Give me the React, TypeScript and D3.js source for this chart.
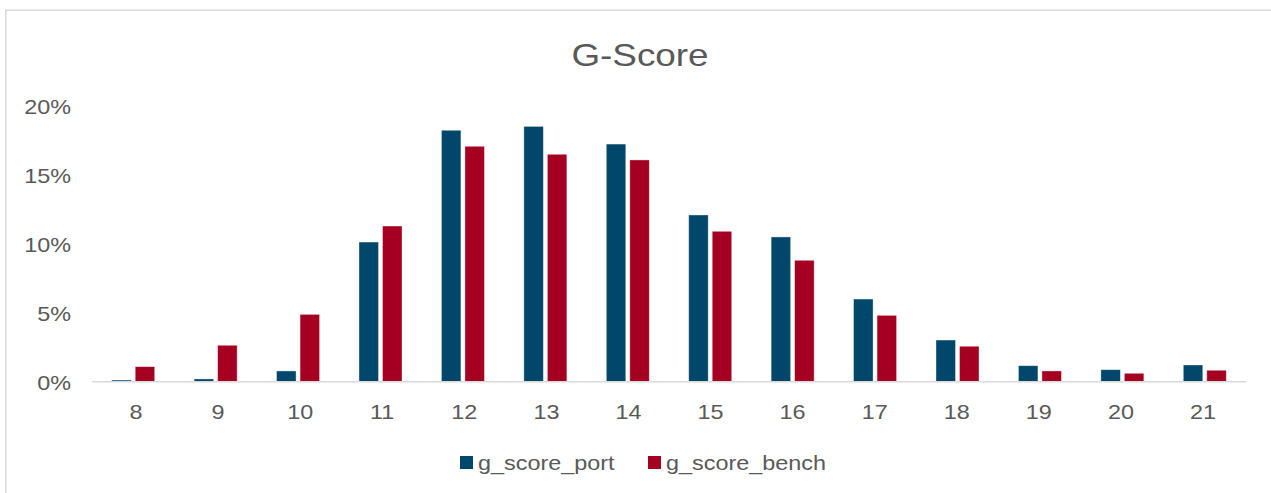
import React from "react";
import * as d3 from "d3";

const categories = ["8", "9", "10", "11", "12", "13", "14", "15", "16", "17", "18", "19", "20", "21"];
const gScorePort = [0.12, 0.2, 0.78, 10.12, 18.22, 18.5, 17.22, 12.08, 10.49, 5.99, 3.02, 1.16, 0.87, 1.21];
const gScoreBench = [1.09, 2.64, 4.88, 11.28, 17.06, 16.48, 16.07, 10.9, 8.8, 4.81, 2.57, 0.78, 0.61, 0.83];
const yTicks = [0, 5, 10, 15, 20];
const seriesNames = ["g_score_port", "g_score_bench"];
const colors = ["#01476B", "#A50021"];

const font = "'Liberation Sans', Arial, sans-serif";
const textColor = "#595959";
const SX = 1.17;

function T({ x, y, size, anchor = "start", children }: { x: number; y: number; size: number; anchor?: string; children: React.ReactNode }) {
  return (
    <text
      transform={`translate(${x},${y}) scale(${SX},1)`}
      textAnchor={anchor}
      fontFamily={font}
      fontSize={size}
      fill={textColor}
    >
      {children}
    </text>
  );
}

export default function App() {
  const W = 1271;
  const H = 493;
  const x0 = 92;
  const x1 = 1246;
  const yBase = 381.7;

  const x = d3.scaleBand<string>().domain(categories).range([x0, x1]).padding(0);
  const y = d3.scaleLinear().domain([0, 20]).range([yBase, yBase - 276]);
  const bw = 19.5;
  const gap = 2;
  const series = [gScorePort, gScoreBench];
  const labelX = d3.scalePoint<string>().domain(categories).range([136, 1203]);

  return (
    <svg width={W} height={H} style={{ position: "absolute", left: 0, top: 0, background: "#fff" }}>
      <rect x={5.75} y={10.25} width={1300} height={600} fill="#fff" stroke="#d9d9d9" strokeWidth={1.5} />
      <T x={640} y={66} size={31.5} anchor="middle">G-Score</T>
      {yTicks.map((t) => (
        <T key={t} x={71} y={y(t) + 8} size={20} anchor="end">
          {t}%
        </T>
      ))}
      {series.map((vals, si) =>
        vals.map((v, i) => {
          const c = (x(categories[i]) as number) + x.bandwidth() / 2;
          const bx = si === 0 ? c - gap - bw : c + gap;
          return (
            <rect
              key={`${si}-${i}`}
              x={bx}
              y={y(v)}
              width={bw}
              height={yBase - y(v)}
              fill={colors[si]}
              stroke="#ffffff"
              strokeOpacity={0.5}
              strokeWidth={0.75}
            />
          );
        })
      )}
      <line x1={x0} x2={x1} y1={yBase} y2={yBase} stroke="#d9d9d9" strokeWidth={1.5} />
      {categories.map((c) => (
        <T key={c} x={labelX(c) as number} y={419} size={20} anchor="middle">
          {c}
        </T>
      ))}
      {seriesNames.map((n, i) => {
        const lx = i === 0 ? 460 : 648;
        return (
          <g key={n}>
            <rect x={lx} y={456} width={13} height={13} fill={colors[i]} />
            <T x={lx + 18} y={470} size={20}>
              {n}
            </T>
          </g>
        );
      })}
    </svg>
  );
}
